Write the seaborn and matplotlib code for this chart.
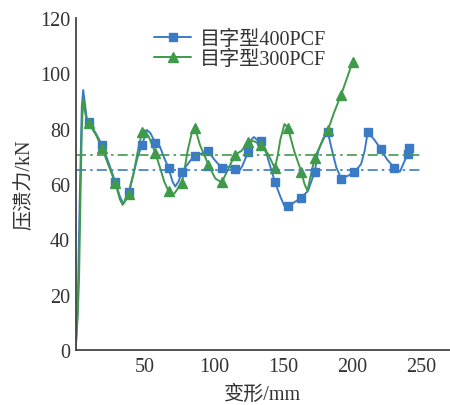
import matplotlib
matplotlib.use("Agg")
import matplotlib.pyplot as plt
import seaborn as sns
import pandas as pd
from matplotlib.lines import Line2D

# ---- data ----
series_names = ["目字型400PCF", "目字型300PCF"]

blue_x = [0, 1.5, 3, 4.5, 5.5, 6.5, 8, 9.6, 12, 15, 19.2, 24, 28.8, 32, 34.5, 36.5, 38.4, 42, 45, 48,
          51.5, 54, 57.6, 61, 64, 67.2, 70, 72, 74.5, 76.8, 80, 83, 86.4, 91, 96, 100, 105.6, 110, 115.2,
          117.5, 120.5, 124.8, 127, 129, 131, 134.4, 138, 144, 148, 151, 153.6, 157, 163.2, 168, 172.8,
          175.5, 179, 182.4, 185, 188.5, 192, 197, 201.6, 206.4, 209, 211.2, 216, 220.8, 225, 230.4,
          234.5, 238, 240.5, 241.2]
blue_y = [0, 15, 55, 88, 94, 90, 84, 82.5, 80.5, 78, 74, 67.5, 60.6, 55.5, 53, 54.5, 57.1, 64, 70, 74.1,
          79.5, 78.5, 74.9, 73.5, 69.5, 65.8, 61, 59.1, 61, 64.3, 66.5, 68.5, 70.3, 71, 72, 69, 65.9, 66.3, 65.5,
          64, 66.5, 71.6, 76, 77, 76, 75.4, 71, 60.9, 55.5, 52, 52, 53, 55.1, 57.5, 64.3,
          72, 76.5, 78.7, 73, 66, 62, 63, 64.3, 67.2, 72, 78.8, 76, 72.6, 69, 65.9,
          64.5, 68.5, 70.9, 72.9]

blue_mx = [9.6, 19.2, 28.8, 38.4, 48, 57.6, 67.2, 76.8, 86.4, 96, 105.6, 115.2, 124.8, 134.4, 144,
           153.6, 163.2, 172.8, 182.4, 192, 201.6, 211.2, 220.8, 230.4, 240.5, 241.2]
blue_my = [82.5, 74, 60.6, 57.1, 74.1, 74.9, 65.8, 64.3, 70.3, 72, 65.9, 65.5, 71.6, 75.4, 60.9,
           52, 55.1, 64.3, 78.7, 62, 64.3, 78.8, 72.6, 65.9, 70.9, 72.9]

green_x = [0, 1.5, 2.5, 3.5, 4.5, 5.5, 6.5, 8, 9.6, 12, 15, 19.2, 24, 28.8, 32, 34, 36, 38.4, 42, 45, 48,
           50, 53, 57.6, 61, 64, 67.2, 69.5, 72, 76.8, 79, 81, 84, 86.4, 90, 96, 101, 105.6, 108, 111.5,
           115.2, 120, 124.8, 129, 134.4, 139, 144, 146, 148, 151, 153.6, 158, 163.2, 165.5, 167.6, 170,
           172.8, 177, 182.4, 187, 192, 196, 200.4]
green_y = [0, 12, 26, 55, 80, 90.7, 87, 83, 82, 80, 77.5, 72.9, 66.5, 60.2, 54.5, 52.5, 54, 56.4, 64, 72, 78.7,
           79.5, 77, 71.3, 66, 61, 57.4, 55.8, 57, 60.5, 66, 72, 78.5, 80.2, 74, 67, 62, 60.6, 63, 66.6,
           70.6, 72, 75.3, 75.5, 74, 71, 65.8, 70, 76, 81.7, 80.2, 72, 64.4, 60, 57.6, 63,
           69.4, 74, 79.5, 86, 92.3, 98, 104.3]

green_mx = [9.6, 19.2, 28.8, 38.4, 48, 57.6, 67.2, 76.8, 86.4, 96, 105.6, 115.2, 124.8, 134.4, 144,
            153.6, 163.2, 172.8, 182.4, 192, 200.4]
green_my = [82, 72.9, 60.2, 56.4, 78.7, 71.3, 57.4, 60.5, 80.2, 67, 60.6, 70.6, 75.3, 74, 65.8,
            80.2, 64.4, 69.4, 79.5, 92.3, 104.3]

avg_values = [65.0, 70.5]   # mean crush force lines (blue, green)
avg_span = [0, 250]

x_ticks = [50, 100, 150, 200, 250]
y_ticks = [0, 20, 40, 60, 80, 100, 120]
x_label = "变形/mm"
y_label = "压溃力/kN"

# ---- style ----
sns.set_style("white")
plt.rcParams['font.family'] = ['Liberation Serif', 'Noto Sans CJK SC']
plt.rcParams['axes.unicode_minus'] = False

BLUE = "#3b7bc6"
GREEN = "#3f9a4a"
AXC = "#444444"
TXT = "#333333"
FS = 14.5

fig = plt.figure(figsize=(4.5, 4.06), dpi=100)
ax = fig.add_axes([0.168, 0.1355, 0.832, 0.8175])

blue_df = pd.DataFrame({"x": blue_x, "y": blue_y})
green_df = pd.DataFrame({"x": green_x, "y": green_y})

sns.lineplot(data=blue_df, x="x", y="y", color=BLUE, lw=1.4, sort=False, ax=ax, legend=False)
sns.lineplot(data=green_df, x="x", y="y", color=GREEN, lw=1.4, sort=False, ax=ax, legend=False)

ax.plot(blue_mx, blue_my, ls="none", marker="s", ms=5.5, color=BLUE, mec=BLUE)
ax.plot(green_mx, green_my, ls="none", marker="^", ms=7, color=GREEN, mec=GREEN)

ax.plot(avg_span, [avg_values[0]] * 2, color=BLUE, lw=1.2, dashes=(6, 2.5, 1.5, 2.5))
ax.plot(avg_span, [avg_values[1]] * 2, color=GREEN, lw=1.2, dashes=(6, 2.5, 1.5, 2.5))

ax.set_xlim(0, 270.7)
ax.set_ylim(0, 120)
ax.set_xticks(x_ticks)
ax.set_yticks(y_ticks)
ax.set_xticklabels([str(t) for t in x_ticks])
ax.set_yticklabels([str(t) for t in y_ticks])
ax.tick_params(direction="in", length=4, width=1, colors=AXC, labelsize=FS, labelcolor=TXT)
ax.tick_params(axis="x", pad=5)
ax.tick_params(axis="y", pad=4)

for s in ["top", "right"]:
    ax.spines[s].set_visible(False)
for s in ["left", "bottom"]:
    ax.spines[s].set_color(AXC)
    ax.spines[s].set_linewidth(1.3)

ax.set_xlabel(x_label, fontsize=FS, color=TXT, labelpad=6)
ax.set_ylabel(y_label, fontsize=FS, color=TXT, labelpad=4)

handles = [
    Line2D([0], [0], color=BLUE, lw=1.4, marker="s", ms=5.5),
    Line2D([0], [0], color=GREEN, lw=1.4, marker="^", ms=7),
]
leg = ax.legend(handles, series_names, loc="upper left", bbox_to_anchor=(0.21, 0.965),
                frameon=False, fontsize=FS, handlelength=1.85, handletextpad=0.4,
                labelspacing=0.05, borderaxespad=0.0, borderpad=0.0)
for t in leg.get_texts():
    t.set_color(TXT)

fig.savefig("out.png", dpi=100)
